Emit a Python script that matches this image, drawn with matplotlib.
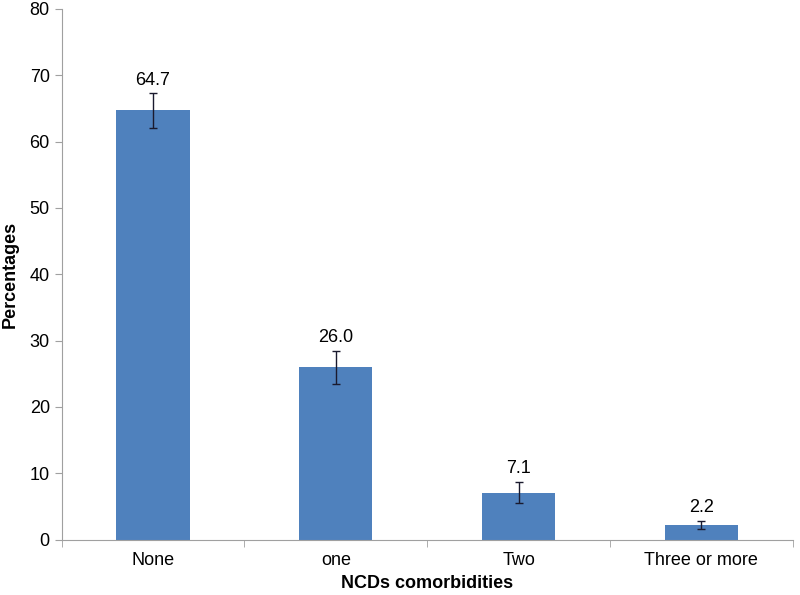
import matplotlib
matplotlib.use('Agg')
import matplotlib.pyplot as plt
import numpy as np

plt.rcParams['font.family'] = ['Liberation Sans', 'DejaVu Sans']

categories = ['None', 'one', 'Two', 'Three or more']
percentages = [64.7, 26.0, 7.1, 2.2]
errors = [2.6, 2.5, 1.6, 0.6]

fig = plt.figure(figsize=(8, 5.95), dpi=100)
ax = fig.add_axes([0.077, 0.093, 0.914, 0.892])

x = np.arange(len(categories))
ax.bar(x, percentages, width=0.4, color='#4F81BD', zorder=2)
ax.errorbar(x, percentages, yerr=errors, fmt='none', ecolor='#1a1a2e',
            elinewidth=1, capsize=3, capthick=1, zorder=3)

for xi, v, e in zip(x, percentages, errors):
    ax.text(xi, v + e + 0.7, '%.1f' % v, ha='center', va='bottom', fontsize=13)

ax.set_xlim(-0.5, len(categories) - 0.5)
ax.set_ylim(0, 80)
ax.set_yticks(np.arange(0, 81, 10))
ax.set_xticks(x)
ax.set_xticklabels(categories, fontsize=13)
ax.set_xticks(np.arange(-0.5, len(categories), 1), minor=True)
ax.tick_params(axis='x', which='major', length=0, pad=9)
ax.tick_params(axis='x', which='minor', length=5, color='#a0a0a0', direction='out')
ax.tick_params(axis='y', labelsize=13, length=5, color='#a0a0a0', direction='out')

for s in ['top', 'right']:
    ax.spines[s].set_visible(False)
for s in ['left', 'bottom']:
    ax.spines[s].set_color('#a0a0a0')

ax.set_ylabel('Percentages', fontsize=13, fontweight='bold', labelpad=8)
ax.set_xlabel('NCDs comorbidities', fontsize=13, fontweight='bold', labelpad=4)

plt.savefig('out.png', dpi=100)
